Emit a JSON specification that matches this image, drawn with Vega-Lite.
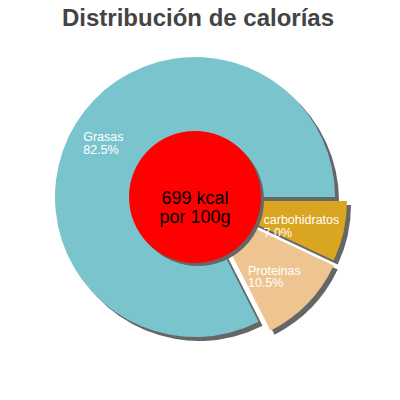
{
  "$schema": "https://vega.github.io/schema/vega-lite/v6.json",
  "width": 390,
  "height": 394,
  "autosize": "none",
  "padding": 0,
  "background": "white",
  "title": {"text": "Distribución de calorías", "fontSize": 24, "font": "Liberation Sans", "fontWeight": "bold", "color": "#444444", "anchor": "middle", "frame": "group", "offset": -50, "dx": 3, "baseline": "alphabetic"},
  "data": {"values": [
    {"name": "carbohidratos", "value": 7.0, "order": 1, "label": "carbohidratos\n7.0%"},
    {"name": "Proteinas", "value": 10.5, "order": 2, "label": "Proteinas\n10.5%"},
    {"name": "Grasas", "value": 82.5, "order": 3, "label": "Grasas\n82.5%"}
  ]},
  "transform": [{"stack": "value", "groupby": [], "sort": [{"field": "order", "order": "ascending"}], "as": ["v0", "v1"]}],
  "layer": [
    {"transform": [{"filter": "datum.name === 'Grasas'"}],
     "mark": {"type": "arc", "outerRadius": 140, "color": "#666666", "xOffset": 4, "yOffset": 4},
     "encoding": {"theta": {"field": "v0", "type": "quantitative", "scale": {"domain": [0, 100], "range": [1.5708, 7.854]}}, "theta2": {"field": "v1"}}},
    {"transform": [{"filter": "datum.name === 'carbohidratos'"}],
     "mark": {"type": "arc", "outerRadius": 140, "color": "#666666", "xOffset": 16, "yOffset": 8},
     "encoding": {"theta": {"field": "v0", "type": "quantitative"}, "theta2": {"field": "v1"}}},
    {"transform": [{"filter": "datum.name === 'Proteinas'"}],
     "mark": {"type": "arc", "outerRadius": 140, "color": "#666666", "xOffset": 16, "yOffset": 13},
     "encoding": {"theta": {"field": "v0", "type": "quantitative"}, "theta2": {"field": "v1"}}},
    {"transform": [{"filter": "datum.name === 'Grasas'"}],
     "mark": {"type": "arc", "outerRadius": 140, "color": "#7AC5CD"},
     "encoding": {"theta": {"field": "v0", "type": "quantitative"}, "theta2": {"field": "v1"}}},
    {"transform": [{"filter": "datum.name === 'carbohidratos'"}],
     "mark": {"type": "arc", "outerRadius": 140, "color": "#DAA520", "xOffset": 12, "yOffset": 4},
     "encoding": {"theta": {"field": "v0", "type": "quantitative"}, "theta2": {"field": "v1"}}},
    {"transform": [{"filter": "datum.name === 'Proteinas'"}],
     "mark": {"type": "arc", "outerRadius": 140, "color": "#EEC591", "xOffset": 12, "yOffset": 9},
     "encoding": {"theta": {"field": "v0", "type": "quantitative"}, "theta2": {"field": "v1"}}},
    {"data": {"values": [{"center": "699 kcal\npor 100g"}]},
     "mark": {"type": "arc", "outerRadius": 66, "color": "#666666", "xOffset": 3, "yOffset": 3},
     "encoding": {"theta": {"datum": 0}, "theta2": {"datum": 100}}},
    {"data": {"values": [{"center": "699 kcal\npor 100g"}]},
     "mark": {"type": "arc", "outerRadius": 66, "color": "#FF0000"},
     "encoding": {"theta": {"datum": 0}, "theta2": {"datum": 100}}},
    {"data": {"values": [{"center": "699 kcal\npor 100g"}]},
     "mark": {"type": "text", "align": "center", "baseline": "middle", "lineBreak": "\n", "font": "Liberation Sans", "fontSize": 18, "lineHeight": 19, "color": "black", "yOffset": 2},
     "encoding": {"text": {"field": "center"}}},
    {"mark": {"type": "text", "radius": 103, "align": "left", "baseline": "middle", "lineBreak": "\n", "font": "Liberation Sans", "fontSize": 12.5, "lineHeight": 12.5, "letterSpacing": 0.8, "color": "white", "xOffset": -24, "yOffset": -6},
     "encoding": {"theta": {"field": "value", "type": "quantitative", "stack": true}, "order": {"field": "order"},
       "text": {"condition": {"test": "datum.name === 'Grasas'", "field": "label"}, "value": ""}}},
    {"mark": {"type": "text", "radius": 103, "align": "left", "baseline": "middle", "lineBreak": "\n", "font": "Liberation Sans", "fontSize": 12.5, "lineHeight": 12.5, "letterSpacing": 0.8, "color": "white", "xOffset": -32, "yOffset": 1},
     "encoding": {"theta": {"field": "value", "type": "quantitative", "stack": true}, "order": {"field": "order"},
       "text": {"condition": {"test": "datum.name === 'carbohidratos'", "field": "label"}, "value": ""}}},
    {"mark": {"type": "text", "radius": 103, "align": "left", "baseline": "middle", "lineBreak": "\n", "font": "Liberation Sans", "fontSize": 12.5, "lineHeight": 12.5, "letterSpacing": 0.8, "color": "white", "xOffset": -21, "yOffset": 2},
     "encoding": {"theta": {"field": "value", "type": "quantitative", "stack": true}, "order": {"field": "order"},
       "text": {"condition": {"test": "datum.name === 'Proteinas'", "field": "label"}, "value": ""}}}
  ]
}
